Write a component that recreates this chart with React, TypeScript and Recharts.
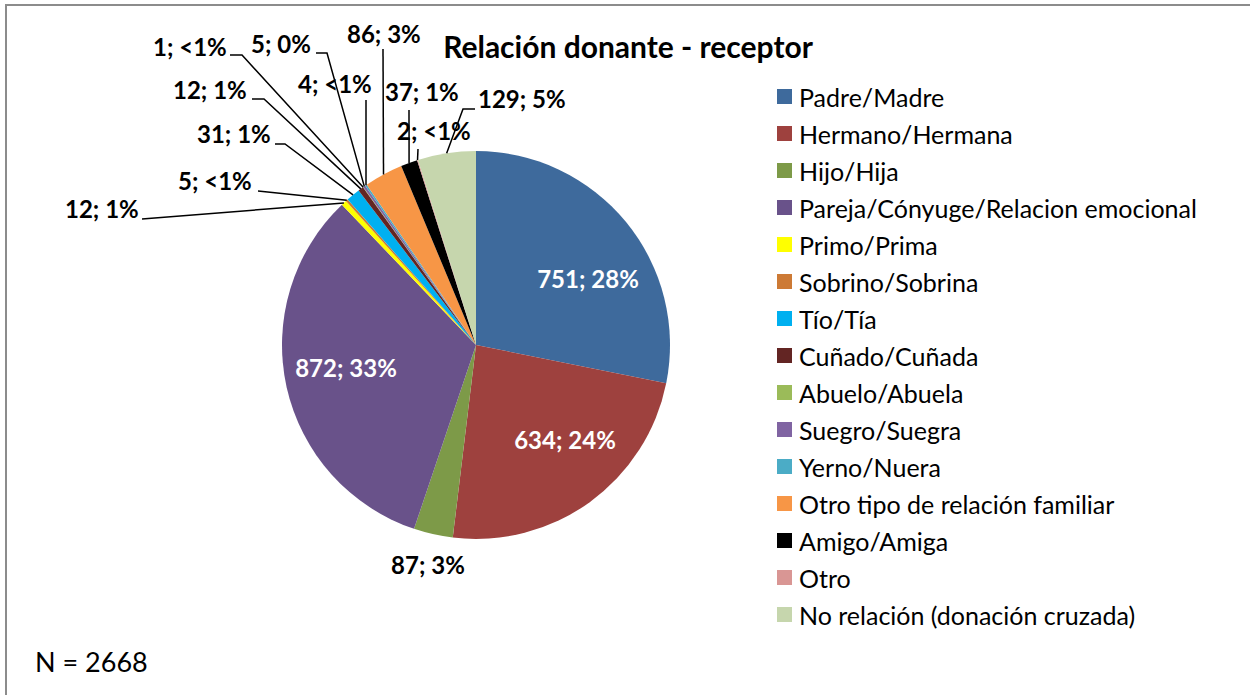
import React from 'react';
import { PieChart, Pie, Cell, Legend } from 'recharts';

const categories = [
  'Padre/Madre',
  'Hermano/Hermana',
  'Hijo/Hija',
  'Pareja/Cónyuge/Relacion emocional',
  'Primo/Prima',
  'Sobrino/Sobrina',
  'Tío/Tía',
  'Cuñado/Cuñada',
  'Abuelo/Abuela',
  'Suegro/Suegra',
  'Yerno/Nuera',
  'Otro tipo de relación familiar',
  'Amigo/Amiga',
  'Otro',
  'No relación (donación cruzada)',
];

const counts = [751, 634, 87, 872, 12, 5, 31, 12, 1, 5, 4, 86, 37, 2, 129];

// percent text as printed on the chart
const pctLabels = ['28%', '24%', '3%', '33%', '1%', '<1%', '1%', '1%', '<1%', '0%', '<1%', '3%', '1%', '<1%', '5%'];

const colors = [
  '#3E6A9C', '#9E413E', '#7D9A48', '#69528A', '#FFFF00',
  '#CD7A35', '#00B0F0', '#632523', '#9BBB59', '#8064A2',
  '#4BACC6', '#F79646', '#000000', '#D99694', '#C6D6AD',
];

const FONT = 'Lato, "Open Sans", sans-serif';

// label placement: text anchor point + leader line points (last point = slice edge)
type LabelPos = { x: number; y: number; anchor: 'start' | 'middle'; inside?: boolean; line?: number[][] };
const labelLayout: LabelPos[] = [
  { x: 588, y: 288, anchor: 'middle', inside: true },
  { x: 565, y: 449, anchor: 'middle', inside: true },
  { x: 428, y: 574, anchor: 'middle' },
  { x: 346, y: 377, anchor: 'middle', inside: true },
  { x: 65, y: 218, anchor: 'start', line: [[142, 219]] },
  { x: 178, y: 190, anchor: 'start', line: [[258, 191]] },
  { x: 197, y: 143, anchor: 'start', line: [[275, 144], [285, 144]] },
  { x: 173, y: 99, anchor: 'start', line: [[252, 99], [264, 99]] },
  { x: 153, y: 56, anchor: 'start', line: [[230, 55], [242, 55]] },
  { x: 251, y: 53, anchor: 'start', line: [[316, 53], [327, 53]] },
  { x: 298, y: 93, anchor: 'start', line: [[366, 100]] },
  { x: 347, y: 43, anchor: 'start', line: [[383, 49]] },
  { x: 385, y: 101, anchor: 'start', line: [[409, 110]] },
  { x: 397, y: 140, anchor: 'start', line: [[418, 149]] },
  { x: 478, y: 108, anchor: 'start', line: [[475, 109], [463, 109]] },
];

const data = categories.map((name, i) => ({ name, value: counts[i] }));

const RADIAN = Math.PI / 180;

function renderLabel(props: any) {
  const { cx, cy, midAngle, outerRadius, index } = props;
  const pos = labelLayout[index];
  const text = `${counts[index]}; ${pctLabels[index]}`;
  let path = null;
  if (pos.line) {
    const ex = cx + outerRadius * Math.cos(-midAngle * RADIAN);
    const ey = cy + outerRadius * Math.sin(-midAngle * RADIAN);
    const pts = [...pos.line, [ex, ey]].map((p) => p.join(',')).join(' ');
    path = <polyline points={pts} fill="none" stroke="#000" strokeWidth={1.5} />;
  }
  return (
    <g key={`lbl-${index}`}>
      {path}
      <text
        x={pos.x}
        y={pos.y}
        textAnchor={pos.anchor}
        fill={pos.inside ? '#fff' : '#000'}
        fontFamily={FONT}
        fontWeight="bold"
        fontSize={24}
      >
        {text}
      </text>
    </g>
  );
}

function LegendList() {
  return (
    <div style={{ fontFamily: FONT, fontSize: 25, color: '#000' }}>
      {categories.map((c, i) => (
        <div key={c} style={{ height: 37, display: 'flex', alignItems: 'center', whiteSpace: 'nowrap' }}>
          <span style={{ width: 15, height: 15, background: colors[i], display: 'inline-block', marginRight: 7 }} />
          <span>{c}</span>
        </div>
      ))}
    </div>
  );
}

export default function App() {
  return (
    <div style={{ position: 'absolute', left: 0, top: 0, width: 1250, height: 695, background: '#fff', overflow: 'hidden' }}>
      <div
        style={{
          position: 'absolute',
          left: 5,
          top: 4,
          width: 1260,
          height: 700,
          borderTop: '2px solid #8C8C8C',
          borderLeft: '2px solid #8C8C8C',
        }}
      />
      <div
        style={{
          position: 'absolute',
          left: 628,
          top: 28,
          transform: 'translateX(-50%)',
          fontFamily: FONT,
          fontWeight: 'bold',
          fontSize: 30,
          whiteSpace: 'nowrap',
        }}
      >
        Relación donante - receptor
      </div>
      <div style={{ position: 'absolute', left: 35, top: 645, fontFamily: FONT, fontSize: 27 }}>N = 2668</div>
      <PieChart width={1250} height={695} margin={{ top: 0, right: 0, bottom: 0, left: 0 }}>
        <Pie
          data={data}
          dataKey="value"
          nameKey="name"
          cx={476}
          cy={345}
          outerRadius={194}
          startAngle={90}
          endAngle={-270}
          stroke="none"
          label={renderLabel}
          labelLine={false}
          isAnimationActive={false}
        >
          {data.map((d, i) => (
            <Cell key={d.name} fill={colors[i]} />
          ))}
        </Pie>
        <Legend
          layout="vertical"
          align="right"
          verticalAlign="top"
          content={() => <LegendList />}
          wrapperStyle={{ left: 777, top: 78, width: 470 }}
        />
      </PieChart>
    </div>
  );
}
